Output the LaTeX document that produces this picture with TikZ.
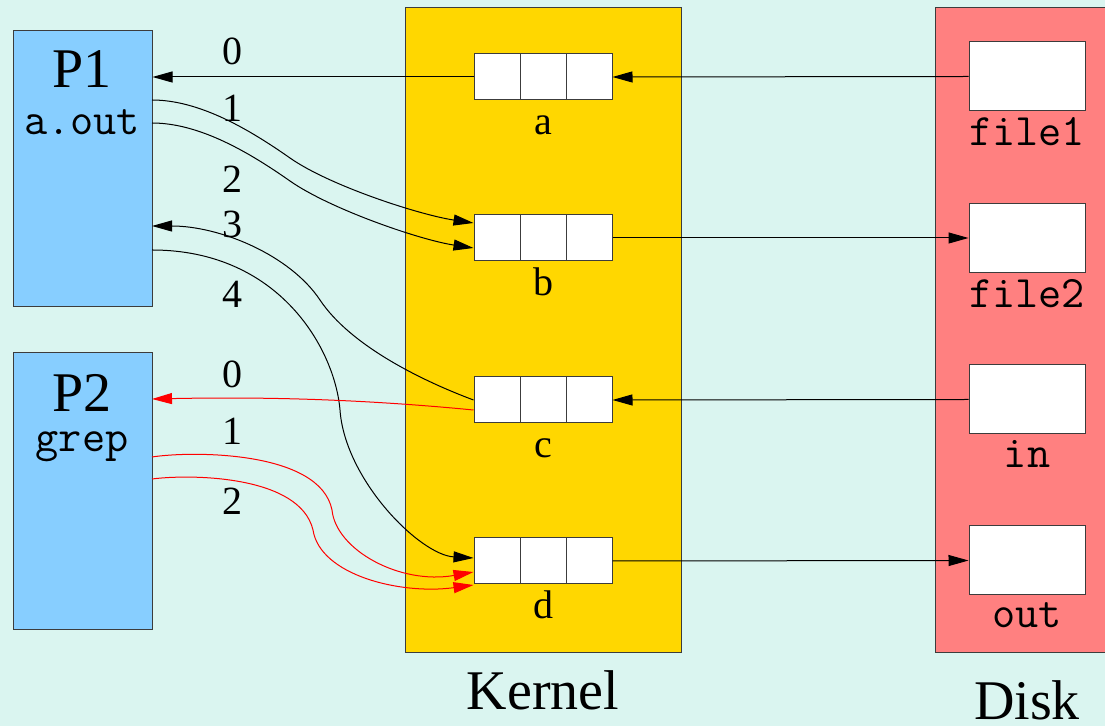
\documentclass[tikz,border=0pt]{standalone}
\usepackage{fontspec}
\setmainfont{Liberation Serif}
\usetikzlibrary{arrows.meta,calc}
\definecolor{fdBack}{RGB}{218,245,240}
\definecolor{fdProc}{RGB}{135,206,255}
\definecolor{fdKern}{RGB}{255,215,0}
\definecolor{fdDisk}{RGB}{255,128,128}
\definecolor{fdLine}{RGB}{60,60,60}
\newcommand{\fdbig}{\fontsize{28}{32}\selectfont}
\newcommand{\fdsmall}{\fontsize{20}{24}\selectfont}
\newcommand{\fdmono}{\fontsize{22.5}{26}\selectfont\ttfamily}

\begin{document}
\begin{tikzpicture}[
    x=0.5pt, y=-0.5pt,
    area/.style={rectangle, draw=fdLine, fill=#1, inner sep=0pt, line width=0.5pt},
    entry/.style={rectangle, draw=fdLine, fill=white, inner sep=0pt, line width=0.5pt,
        minimum width=69pt, minimum height=23pt,
        path picture={
            \draw[fdLine, line width=0.5pt]
              ($(path picture bounding box.north west)!1/3!(path picture bounding box.north east)$) --
              ($(path picture bounding box.south west)!1/3!(path picture bounding box.south east)$);
            \draw[fdLine, line width=0.5pt]
              ($(path picture bounding box.north west)!2/3!(path picture bounding box.north east)$) --
              ($(path picture bounding box.south west)!2/3!(path picture bounding box.south east)$);
        }},
    diskbox/.style={rectangle, draw=fdLine, fill=white, inner sep=0pt, line width=0.5pt,
        minimum width=58pt, minimum height=34.5pt},
    tag/.style={anchor=base, inner sep=0pt, font=\fdsmall},
    mono/.style={anchor=base, inner sep=0pt, font=\fdmono},
    title/.style={anchor=base, inner sep=0pt, font=\fdbig},
    arrow/.style={-{Triangle[length=10pt,width=5.5pt]}, line width=0.5pt, draw=black},
    redarrow/.style={arrow, draw=red}
]
\useasboundingbox (0,0) rectangle (1105,726);
\clip (0,0) rectangle (1105,726);
\fill[fdBack] (0,0) rectangle (1105,726);

% processes
\node[area=fdProc, minimum width=69.5pt, minimum height=138pt] (p1) at (82.5,169) {};
\node[area=fdProc, minimum width=69.5pt, minimum height=138.5pt] (p2) at (82.5,491.5) {};
\node[title] (p1name) at (82,88) {P1};
\node[mono] (p1prog) at (82,135) {a.out};
\node[title] (p2name) at (82,412) {P2};
\node[mono] (p2prog) at (82,452) {grep};

% kernel and disk
\node[area=fdKern, minimum width=138pt, minimum height=322.5pt] (kernel) at (543,330.5) {};
\node[area=fdDisk, minimum width=90pt, minimum height=322.5pt] (disk) at (1025,330.5) {};
\node[title] (kernelname) at (543,710) {Kernel};
\node[title] (diskname) at (1027,720) {Disk};

% open file table
\node[entry] (a) at (543,77) {};
\node[entry] (b) at (543,238) {};
\node[entry] (c) at (543,400) {};
\node[entry] (d) at (543,561) {};
\node[tag] (atag) at (543,135) {a};
\node[tag] (btag) at (543,296) {b};
\node[tag] (ctag) at (543,458) {c};
\node[tag] (dtag) at (543,619) {d};

% files
\node[diskbox] (file1) at (1027,76.5) {};
\node[diskbox] (file2) at (1027,238) {};
\node[diskbox] (in) at (1027,399.5) {};
\node[diskbox] (out) at (1027,560.5) {};
\node[mono] (file1tag) at (1027,146) {file1};
\node[mono] (file2tag) at (1027,308) {file2};
\node[mono] (intag) at (1027,468) {in};
\node[mono] (outtag) at (1027,628) {out};

% descriptor numbers
\node[tag] (n10) at (232,65) {0};
\node[tag] (n11) at (232,122) {1};
\node[tag] (n12) at (232,193) {2};
\node[tag] (n13) at (232,238) {3};
\node[tag] (n14) at (232,308) {4};
\node[tag] (n20) at (232,388) {0};
\node[tag] (n21) at (232,445) {1};
\node[tag] (n22) at (232,515) {2};

% descriptor ports
\coordinate (p1fd1) at (152,100);
\coordinate (p1fd2) at (152,123);
\coordinate (p1fd3) at (152,226);
\coordinate (p1fd4) at (152,250);
\coordinate (p2fd0) at (152,399);
\coordinate (p2fd1) at (152,457);
\coordinate (p2fd2) at (152,479);

% P1 descriptors
\draw[arrow] (a.west) -- (p1.east |- a.west);
\draw[arrow] (p1fd1) .. controls (200,100) and (250,130) .. (290,158)
    .. controls (330,186) and (420,215) .. ($(b.west)+(0,-15)$);
\draw[arrow] (p1fd2) .. controls (200,123) and (250,153) .. (290,181)
    .. controls (330,209) and (420,240) .. ($(b.west)+(0,10)$);
\draw[arrow] (c.west) .. controls (420,380) and (350,345) .. (320,300)
    .. controls (290,255) and (220,226) .. (p1fd3);
\draw[arrow] (p1fd4) .. controls (280,250) and (335,350) .. (340,410)
    .. controls (345,480) and (420,555) .. ($(d.west)+(0,-3)$);

% P2 descriptors
\draw[redarrow] ($(c.west)+(0,10)$) .. controls (350,398) and (250,397) .. (p2fd0);
\draw[redarrow] (p2fd1) .. controls (190,451) and (320,450) .. (332,510)
    .. controls (336,550) and (400,585) .. ($(d.west)+(0,11)$);
\draw[redarrow] (p2fd2) .. controls (190,474) and (300,475) .. (313,530)
    .. controls (320,575) and (400,595) .. ($(d.west)+(0,24)$);

% kernel to disk
\draw[arrow] (file1.west) -- (a.east);
\draw[arrow] (b.east) -- (file2.west);
\draw[arrow] (in.west) -- (c.east);
\draw[arrow] (d.east) -- (out.west);
\end{tikzpicture}
\end{document}
